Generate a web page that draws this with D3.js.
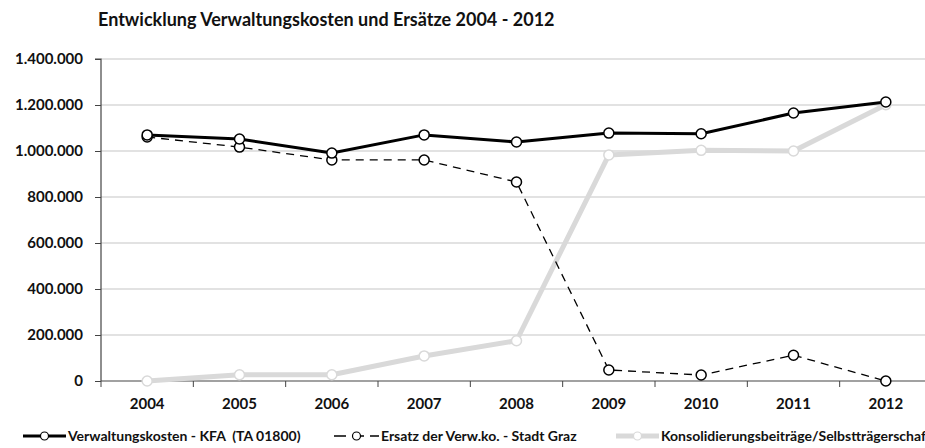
<!DOCTYPE html>
<html>
<head>
<meta charset="utf-8">
<script src="https://cdn.jsdelivr.net/npm/d3@7"></script>
<style>
  body { margin: 0; background: #fff; overflow: hidden; }
  svg { display: block; font-family: Lato, "Open Sans", sans-serif; }
</style>
</head>
<body>
<script>
// Daten
var years = ["2004", "2005", "2006", "2007", "2008", "2009", "2010", "2011", "2012"];
var verwaltungskosten = [1070000, 1052000, 991000, 1070000, 1039000, 1078000, 1075000, 1165000, 1213000];
var ersatzGraz = [1061000, 1017000, 961000, 961000, 865000, 48000, 26000, 112000, 0];
var konsolidierung = [0, 27000, 27000, 109000, 175000, 983000, 1003000, 1000000, 1201000];
var yTicks = [0, 200000, 400000, 600000, 800000, 1000000, 1200000, 1400000];
var seriesNames = ["Verwaltungskosten - KFA  (TA 01800)", "Ersatz der Verw.ko. - Stadt Graz", "Konsolidierungsbeiträge/Selbstträgerschaft"];

var width = 925,
    height = 448,
    plotLeft = 101,
    plotRight = 932,
    plotTop = 59,
    plotBottom = 381;

var svg = d3.select("body").append("svg")
    .attr("width", width)
    .attr("height", height);

var x = d3.scaleBand()
    .domain(years)
    .range([plotLeft, plotRight]);

var y = d3.scaleLinear()
    .domain([0, 1400000])
    .range([plotBottom, plotTop]);

var fmt = function (v) { return d3.format(",")(v).replace(/,/g, "."); };

// Titel
svg.append("text")
    .attr("x", 98)
    .attr("y", 26)
    .attr("font-size", 18)
    .attr("font-weight", "bold")
    .attr("fill", "#111")
    .text("Entwicklung Verwaltungskosten und Ersätze 2004 - 2012");

// Gitterlinien
svg.append("g")
    .selectAll("line")
    .data(yTicks.filter(function (d) { return d > 0; }))
    .enter().append("line")
    .attr("x1", plotLeft)
    .attr("x2", width)
    .attr("y1", function (d) { return y(d); })
    .attr("y2", function (d) { return y(d); })
    .attr("stroke", "#d9d9d9")
    .attr("stroke-width", 1.5);

// y-Achse
var yAxis = svg.append("g")
    .attr("transform", "translate(" + plotLeft + ",0)")
    .call(d3.axisLeft(y).tickValues(yTicks).tickSize(6).tickPadding(12).tickFormat(fmt));
yAxis.select(".domain").attr("stroke", "#444").attr("stroke-width", 1.2).attr("d", "M-6," + plotTop + "H0V" + plotBottom);
yAxis.selectAll(".tick line").attr("stroke", "#444");
yAxis.selectAll("text")
    .attr("font-family", "Lato, sans-serif")
    .attr("font-size", 15)
    .attr("font-weight", "bold")
    .attr("fill", "#111");

// x-Achse
var xAxis = svg.append("g")
    .attr("transform", "translate(0," + plotBottom + ")")
    .call(d3.axisBottom(x).tickSize(0).tickPadding(17));
xAxis.select(".domain").remove();
xAxis.append("line")
    .attr("x1", plotLeft).attr("x2", width)
    .attr("stroke", "#444").attr("stroke-width", 1.2);
xAxis.selectAll(".xt")
    .data(years)
    .enter().append("line")
    .attr("class", "xt")
    .attr("x1", function (d) { return x(d); })
    .attr("x2", function (d) { return x(d); })
    .attr("y1", 0).attr("y2", 6)
    .attr("stroke", "#444");
xAxis.selectAll("text")
    .attr("font-family", "Lato, sans-serif")
    .attr("font-size", 15)
    .attr("font-weight", "bold")
    .attr("fill", "#111");

var cx = function (d, i) { return x(years[i]) + x.bandwidth() / 2; };
var line = d3.line()
    .x(cx)
    .y(function (d) { return y(d); });

var styles = [
    { data: verwaltungskosten, stroke: "#000", width: 3, dash: null, mstroke: "#000" },
    { data: ersatzGraz, stroke: "#000", width: 1.3, dash: "8,6", mstroke: "#000" },
    { data: konsolidierung, stroke: "#d9d9d9", width: 5, dash: null, mstroke: "#d9d9d9" }
];

// Reihenfolge: grau zuerst, dann gestrichelt, dann schwarz
[2, 1, 0].forEach(function (k) {
    var s = styles[k];
    var g = svg.append("g");
    g.append("path")
        .attr("d", line(s.data))
        .attr("fill", "none")
        .attr("stroke", s.stroke)
        .attr("stroke-width", s.width)
        .attr("stroke-dasharray", s.dash)
        .attr("stroke-linejoin", "round");
    g.selectAll("circle")
        .data(s.data)
        .enter().append("circle")
        .attr("cx", cx)
        .attr("cy", function (d) { return y(d); })
        .attr("r", 5)
        .attr("fill", "#fff")
        .attr("stroke", s.mstroke)
        .attr("stroke-width", 1.5);
});

// Legende
var legendX = [23, 334, 616];
var legendText = [68, 381, 661];
var ly = 436;
styles.forEach(function (s, i) {
    var g = svg.append("g");
    g.append("line")
        .attr("x1", legendX[i]).attr("x2", legendText[i] - 2)
        .attr("y1", ly).attr("y2", ly)
        .attr("stroke", s.stroke)
        .attr("stroke-width", s.width)
        .attr("stroke-dasharray", s.dash ? "12,6" : null);
    g.append("circle")
        .attr("cx", (legendX[i] + legendText[i] - 2) / 2)
        .attr("cy", ly)
        .attr("r", 4)
        .attr("fill", "#fff")
        .attr("stroke", s.mstroke)
        .attr("stroke-width", 1.2);
    g.append("text")
        .attr("x", legendText[i])
        .attr("y", ly + 5)
        .attr("font-size", 14)
        .attr("font-weight", "bold")
        .attr("fill", "#111")
        .style("white-space", "pre")
        .text(seriesNames[i]);
});
</script>
</body>
</html>
